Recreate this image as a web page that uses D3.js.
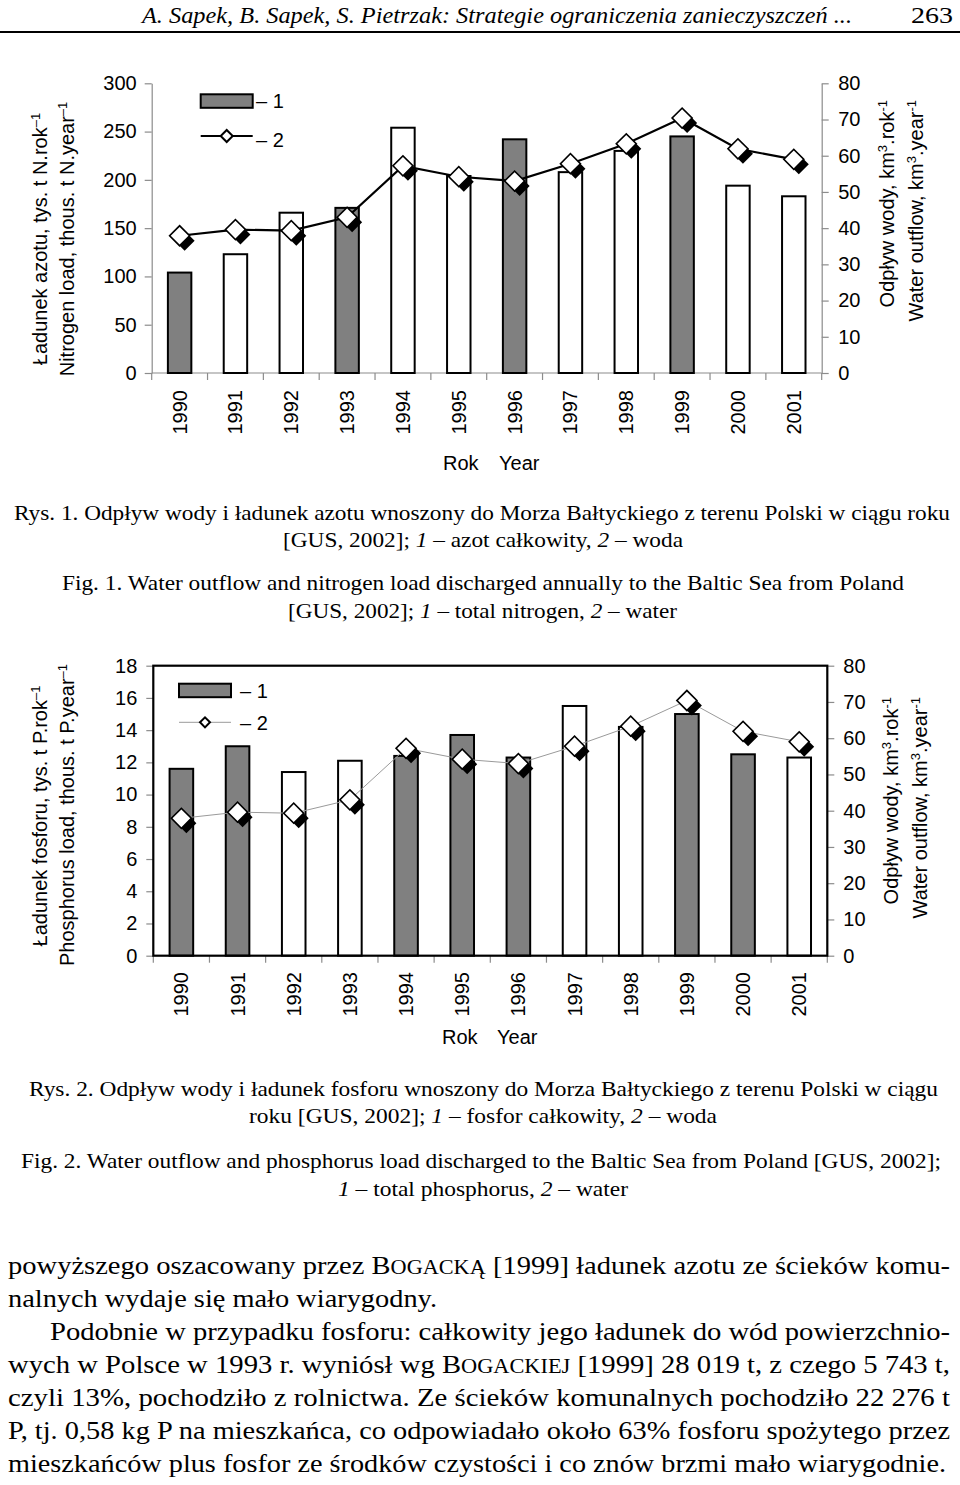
<!DOCTYPE html>
<html><head><meta charset="utf-8">
<script src="https://cdn.jsdelivr.net/npm/d3@7"></script>
<style>
html,body{margin:0;padding:0;background:#fff;}
svg{display:block;}
</style></head><body>
<svg id="c" width="960" height="1485"></svg>
<script>
// ---------- data ----------
const years = ["1990","1991","1992","1993","1994","1995","1996","1997","1998","1999","2000","2001"];
const nitrogenLoad = [104, 123, 166, 171, 254, 204, 242, 208, 230, 245, 194, 183];
const nitrogenShaded = [1,0,0,1,0,0,1,0,0,1,0,0];
const phosphorusLoad = [11.6, 13.0, 11.4, 12.1, 12.4, 13.7, 12.3, 15.5, 14.2, 15.0, 12.5, 12.3];
const phosphorusShaded = [1,1,0,0,1,1,1,0,0,1,1,0];
const waterOutflow = [37.9, 39.6, 39.3, 43.0, 57.2, 54.2, 53.0, 57.8, 63.3, 70.4, 61.9, 59.0];
const nTicks = [0,50,100,150,200,250,300];
const pTicks = [0,2,4,6,8,10,12,14,16,18];
const waterTicks = [0,10,20,30,40,50,60,70,80];

const SANS = '"Liberation Sans", Arial, sans-serif';
const SERIF = '"Liberation Serif", "Times New Roman", Times, serif';
const GRAY = '#8c8c8c';
const svg = d3.select('#c');
svg.append('rect').attr('width',960).attr('height',1485).attr('fill','#fff');

function rotTitle(cx, cy, anchor, parts){
  const t = svg.append('text')
    .attr('transform',`translate(${cx},${cy}) rotate(-90)`)
    .attr('text-anchor',anchor).attr('dy','0.35em')
    .attr('font-family',SANS).attr('font-size',20).attr('fill','#000');
  parts.forEach(p=>{
    const s = t.append('tspan').text(p[0]);
    if(p[1]==='sup'){ s.attr('font-size',13).attr('baseline-shift','super'); }
  });
  return t;
}

function drawChart(o){
  const g = svg.append('g');
  const x = d3.scaleBand().domain(years).range([o.left,o.right]).padding(0);
  const yL = d3.scaleLinear().domain([0,o.yMax]).range([o.bottom,o.top]);
  const yR = d3.scaleLinear().domain([0,80]).range([o.bottom,o.top]);
  const bw = x.bandwidth()*0.42;
  const cx = d => x(d)+x.bandwidth()/2;

  // category ticks
  g.append('g').selectAll('line').data(d3.range(years.length+1)).join('line')
    .attr('x1',i=>o.left+i*x.step()).attr('x2',i=>o.left+i*x.step())
    .attr('y1',o.bottom).attr('y2',o.bottom+7).attr('stroke',GRAY).attr('stroke-width',1.2);
  if(!o.frame){
    g.append('line').attr('x1',o.left).attr('x2',o.right).attr('y1',o.bottom).attr('y2',o.bottom)
      .attr('stroke',GRAY).attr('stroke-width',1.2);
  }

  // axes
  const la = g.append('g').attr('transform',`translate(${o.left},0)`)
    .call(d3.axisLeft(yL).tickValues(o.yTicks).tickSize(7).tickSizeOuter(0).tickPadding(o.padL).tickFormat(d3.format('d')));
  const ra = g.append('g').attr('transform',`translate(${o.right},0)`)
    .call(d3.axisRight(yR).tickValues(waterTicks).tickSize(7).tickSizeOuter(0).tickPadding(o.padR).tickFormat(d3.format('d')));
  [la,ra].forEach(a=>{
    a.attr('font-size',20).attr('font-family',SANS);
    a.select('.domain').attr('stroke',o.frame?'none':GRAY).attr('stroke-width',1.2);
    a.selectAll('.tick line').attr('stroke',GRAY).attr('stroke-width',1.2);
    a.selectAll('.tick text').attr('fill','#000');
  });

  // bars
  g.append('g').selectAll('rect').data(years).join('rect')
    .attr('x',d=>cx(d)-bw/2).attr('width',bw)
    .attr('y',(d,i)=>yL(o.loads[i])).attr('height',(d,i)=>o.bottom-yL(o.loads[i]))
    .attr('fill',(d,i)=>o.shaded[i]?'#808080':'#fff')
    .attr('stroke','#000').attr('stroke-width',2);

  if(o.frame){
    g.append('rect').attr('x',o.left).attr('y',o.top).attr('width',o.right-o.left).attr('height',o.bottom-o.top)
      .attr('fill','none').attr('stroke','#000').attr('stroke-width',2.2);
  }

  // water line + shadowed diamonds
  const line = d3.line().x((d,i)=>cx(years[i])).y(d=>yR(d));
  g.append('path').datum(waterOutflow).attr('d',line).attr('fill','none')
    .attr('stroke',o.lineColor).attr('stroke-width',o.lineWidth);
  const sq = d3.symbol(d3.symbolSquare, 200)();
  const mk = g.append('g').selectAll('g').data(waterOutflow).join('g');
  mk.append('path').attr('d',sq).attr('fill','#000')
    .attr('transform',(d,i)=>`translate(${cx(years[i])+5},${yR(d)+5}) rotate(45)`);
  mk.append('path').attr('d',sq).attr('fill','#fff').attr('stroke','#000').attr('stroke-width',1.6)
    .attr('transform',(d,i)=>`translate(${cx(years[i])},${yR(d)}) rotate(45)`);

  // year labels
  g.append('g').selectAll('text').data(years).join('text')
    .attr('transform',d=>`translate(${cx(d)},${o.yearTop}) rotate(-90)`)
    .attr('text-anchor','end').attr('dy','0.35em')
    .attr('font-family',SANS).attr('font-size',20).attr('fill','#000').text(d=>d);

  // legend
  const L = o.legend;
  g.append('rect').attr('x',L.x).attr('y',L.y1-7).attr('width',L.w).attr('height',13.5)
    .attr('fill','#808080').attr('stroke','#000').attr('stroke-width',2);
  g.append('line').attr('x1',L.x).attr('x2',L.x+L.w).attr('y1',L.y2).attr('y2',L.y2)
    .attr('stroke',o.lineColor).attr('stroke-width',o.lineWidth);
  g.append('path').attr('d',d3.symbol(d3.symbolSquare,L.ms)()).attr('fill','#fff')
    .attr('stroke','#000').attr('stroke-width',2)
    .attr('transform',`translate(${L.x+L.w/2},${L.y2}) rotate(45)`);
  g.append('text').attr('x',L.tx).attr('y',L.y1+7).attr('font-family',SANS).attr('font-size',20).text('– 1');
  g.append('text').attr('x',L.tx).attr('y',L.y2+L.t2dy).attr('font-family',SANS).attr('font-size',20).text('– 2');

  // Rok Year
  const ry = g.append('text').attr('y',o.rokY).attr('font-family',SANS).attr('font-size',20);
  ry.append('tspan').attr('x',o.rokX).text('Rok');
  ry.append('tspan').attr('x',o.yearX).text('Year');
}

drawChart({left:151.7,right:821.7,top:83.3,bottom:373,yMax:300,yTicks:nTicks,loads:nitrogenLoad,shaded:nitrogenShaded,
  frame:false,lineColor:'#000',lineWidth:2.2,padL:8,padR:9.5,yearTop:390,
  legend:{x:200.7,w:52,y1:101.3,y2:136,ms:72,tx:256,t2dy:11},rokX:443,yearX:499,rokY:470});
rotTitle(40,239,'middle',[['Ładunek azotu, tys. t N.rok'],['–1','sup']]);
rotTitle(67,239,'middle',[['Nitrogen load, thous. t N.year'],['–1','sup']]);
rotTitle(887,100,'end',[['Odpływ wody, km'],['3','sup'],['.rok'],['-1','sup']]);
rotTitle(916,100,'end',[['Water outflow, km'],['3','sup'],['.year'],['-1','sup']]);

drawChart({left:153.3,right:827.3,top:665.7,bottom:955.7,yMax:18,yTicks:pTicks,loads:phosphorusLoad,shaded:phosphorusShaded,
  frame:true,lineColor:'#9a9a9a',lineWidth:1,padL:9,padR:9,yearTop:972,
  legend:{x:179,w:52,y1:690.7,y2:722.3,ms:50,tx:240,t2dy:8},rokX:442,yearX:497,rokY:1044});
rotTitle(40,816,'middle',[['Ładunek fosforu, tys. t P.rok'],['–1','sup']]);
rotTitle(67,815,'middle',[['Phosphorus load, thous. t P.year'],['–1','sup']]);
rotTitle(891,697,'end',[['Odpływ wody, km'],['3','sup'],['.rok'],['-1','sup']]);
rotTitle(920,697,'end',[['Water outflow, km'],['3','sup'],['.year'],['-1','sup']]);

// ---------- page text ----------
function textLine(x1, x2, y, size, parts, opts){
  opts = opts||{};
  const t = svg.append('text').attr('x',x1).attr('y',y)
    .attr('font-family',SERIF).attr('font-size',size).attr('fill','#000');
  if(opts.italic) t.attr('font-style','italic');
  if(x2!==null){ t.attr('textLength',x2-x1).attr('lengthAdjust','spacingAndGlyphs'); }
  parts.forEach(p=>{
    if(typeof p==='string'){ t.append('tspan').text(p); }
    else {
      const s = t.append('tspan').text(p[0]);
      if(p[1]==='i') s.attr('font-style','italic');
      if(p[1]==='sc') s.attr('font-size',size*0.78);
    }
  });
  return t;
}

// header
textLine(142, 852, 23, 24, ['A. Sapek, B. Sapek, S. Pietrzak: Strategie ograniczenia zanieczyszczeń ...'], {italic:true});
textLine(911, 953, 23, 24, ['263']);
svg.append('line').attr('x1',0).attr('x2',960).attr('y1',32).attr('y2',32).attr('stroke','#000').attr('stroke-width',2);

// captions
const cs = 22;
textLine(14, 950, 520, cs, ['Rys. 1. Odpływ wody i ładunek azotu wnoszony do Morza Bałtyckiego z terenu Polski w ciągu roku']);
textLine(283, 683, 547, cs, ['[GUS, 2002]; ',['1','i'],' – azot całkowity, ',['2','i'],' – woda']);
textLine(62, 904, 590, cs, ['Fig. 1. Water outflow and nitrogen load discharged annually to the Baltic Sea from Poland']);
textLine(288, 677, 618, cs, ['[GUS, 2002]; ',['1','i'],' – total nitrogen, ',['2','i'],' – water']);
textLine(29, 938, 1096, cs, ['Rys. 2. Odpływ wody i ładunek fosforu wnoszony do Morza Bałtyckiego z terenu Polski w ciągu']);
textLine(249, 717, 1123, cs, ['roku [GUS, 2002]; ',['1','i'],' – fosfor całkowity, ',['2','i'],' – woda']);
textLine(21, 941, 1168, cs, ['Fig. 2. Water outflow and phosphorus load discharged to the Baltic Sea from Poland [GUS, 2002];']);
textLine(338, 628, 1196, cs, [['1','i'],' – total phosphorus, ',['2','i'],' – water']);

// body
const by0 = 1274, bdy = 33, bs = 26;
textLine(8, 950, by0, bs, ['powyższego oszacowany przez B',['OGACKĄ','sc'],' [1999] ładunek azotu ze ścieków komu-']);
textLine(8, 437, by0+bdy, bs, ['nalnych wydaje się mało wiarygodny.']);
textLine(50, 950, by0+2*bdy, bs, ['Podobnie w przypadku fosforu: całkowity jego ładunek do wód powierzchnio-']);
textLine(8, 950, by0+3*bdy, bs, ['wych w Polsce w 1993 r. wyniósł wg B',['OGACKIEJ','sc'],' [1999] 28 019 t, z czego 5 743 t,']);
textLine(8, 950, by0+4*bdy, bs, ['czyli 13%, pochodziło z rolnictwa. Ze ścieków komunalnych pochodziło 22 276 t']);
textLine(8, 950, by0+5*bdy, bs, ['P, tj. 0,58 kg P na mieszkańca, co odpowiadało około 63% fosforu spożytego przez']);
textLine(8, 946, by0+6*bdy, bs, ['mieszkańców plus fosfor ze środków czystości i co znów brzmi mało wiarygodnie.']);
</script>
</body></html>
